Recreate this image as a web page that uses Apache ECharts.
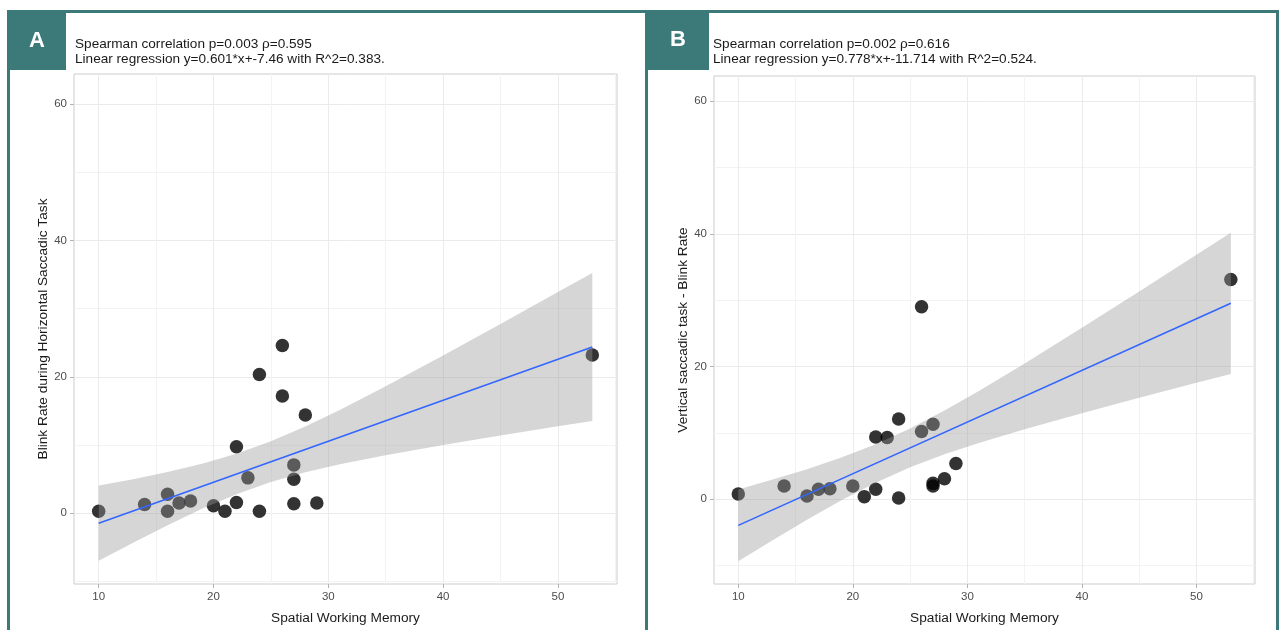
<!DOCTYPE html>
<html>
<head>
<meta charset="utf-8">
<script src="https://cdn.jsdelivr.net/npm/echarts@6/dist/echarts.min.js"></script>
<style>
html,body{margin:0;padding:0;background:#fff;}
#chart{width:1279px;height:630px;}
</style>
</head>
<body>
<div id="chart"></div>
<script>
// ---- Panel A data ----
const swmA = [10,14,16,16,17,18,20,21,22,22,23,24,24,26,26,27,27,27,28,29,53];
const blinkA = [0.3,1.3,2.8,0.3,1.5,1.8,1.1,0.3,1.6,9.75,5.2,0.3,20.35,24.6,17.2,7.1,5.0,1.4,14.4,1.5,23.2];
const fitXA = [10,53];
const fitYA = [-1.45,24.39];
const bandX = [10,13,16,19,22,25,28,31,35,40,45,50,53];
const bandLoA = [-6.97,-4.31,-1.73,0.67,2.80,4.59,6.01,7.18,8.53,10.02,11.42,12.75,13.54];
const bandHiA = [4.07,5.01,6.05,7.25,8.72,10.55,12.73,15.16,18.63,23.14,27.76,32.43,35.24];
// ---- Panel B data ----
const swmB = [10,14,16,17,18,20,21,22,22,23,24,24,26,26,27,27,27,28,29,53];
const blinkB = [0.8,2.0,0.5,1.5,1.6,2.0,0.4,1.5,9.4,9.3,12.1,0.2,10.2,29.0,11.3,2.4,2.0,3.1,5.4,33.1];
const fitXB = [10,53];
const fitYB = [-3.93,29.52];
const bandLoB = [-9.33,-6.17,-3.08,-0.15,2.50,4.82,6.78,8.49,10.57,12.98,15.30,17.55,18.89];
const bandHiB = [1.47,2.97,4.54,6.29,8.30,10.66,13.36,16.31,20.47,25.84,31.30,36.83,40.15];
// ---- ticks / texts ----
const xMajor = [10,20,30,40,50];
const xMinor = [15,25,35,45,55];
const yMajor = [0,20,40,60];
const yMinor = [-10,10,30,50];
const xTitle = 'Spatial Working Memory';
const yTitleA = 'Blink Rate during Horizontal Saccadic Task';
const yTitleB = 'Vertical saccadic task - Blink Rate';
const headA = ['Spearman correlation p=0.003 ρ=0.595','Linear regression y=0.601*x+-7.46 with R^2=0.383.'];
const headB = ['Spearman correlation p=0.002 ρ=0.616','Linear regression y=0.778*x+-11.714 with R^2=0.524.'];

const FONT = "'Liberation Sans', Arial, sans-serif";
const TEAL = '#3b7a79';

function zip(a,b){return a.map((v,i)=>[v,b[i]]);}
function bandData(lo,hi){return bandX.map((x,i)=>[x,lo[i],hi[i]]);}

function xAxes(grid, min, max){
  return [{
    type:'value', gridIndex:grid, min:min, max:max, position:'bottom',
    axisLine:{show:false,onZero:false},
    axisTick:{show:true,length:4,lineStyle:{color:'#b3b3b3'},customValues:xMajor},
    axisLabel:{customValues:xMajor,color:'#4d4d4d',fontSize:11.5,fontFamily:FONT,margin:7},
    splitLine:{show:true,lineStyle:{color:'#ebebeb',width:1}},
    name:xTitle,nameLocation:'middle',nameGap:27,
    nameTextStyle:{color:'#1a1a1a',fontSize:13.7,fontFamily:FONT}
  },{
    type:'value', gridIndex:grid, min:min, max:max, position:'bottom',
    axisLine:{show:false,onZero:false},
    axisTick:{show:false,customValues:xMinor},
    axisLabel:{show:false,customValues:xMinor},
    splitLine:{show:true,lineStyle:{color:'#f3f3f3',width:1}}
  }];
}
function yAxes(grid, min, max, title, gap){
  return [{
    type:'value', gridIndex:grid, min:min, max:max, position:'left',
    axisLine:{show:false,onZero:false},
    axisTick:{show:true,length:4,lineStyle:{color:'#b3b3b3'},customValues:yMajor},
    axisLabel:{customValues:yMajor,color:'#4d4d4d',fontSize:11.5,fontFamily:FONT,margin:7},
    splitLine:{show:true,lineStyle:{color:'#ebebeb',width:1}},
    name:title,nameLocation:'middle',nameGap:gap,
    nameTextStyle:{color:'#1a1a1a',fontSize:13.7,fontFamily:FONT}
  },{
    type:'value', gridIndex:grid, min:min, max:max, position:'left',
    axisLine:{show:false,onZero:false},
    axisTick:{show:false,customValues:yMinor},
    axisLabel:{show:false,customValues:yMinor},
    splitLine:{show:true,lineStyle:{color:'#f3f3f3',width:1}}
  }];
}
function bandSeries(xi, yi, data){
  return {
    type:'custom', xAxisIndex:xi, yAxisIndex:yi, z:3, silent:true,
    data:data, encode:{x:0,y:[1,2]},
    renderItem:function(params, api){
      if(params.dataIndex!==0) return null;
      const pts=[];
      for(let i=0;i<data.length;i++) pts.push(api.coord([data[i][0],data[i][2]]));
      for(let i=data.length-1;i>=0;i--) pts.push(api.coord([data[i][0],data[i][1]]));
      return {type:'polygon',shape:{points:pts},style:{fill:'rgba(153,153,153,0.4)'}};
    }
  };
}

const chart = echarts.init(document.getElementById('chart'), null, {renderer:'canvas'});
const option = {
  backgroundColor:'#ffffff',
  animation:false,
  grid:[
    {left:74, top:74, width:543, height:510, show:true, borderColor:'#cccccc', borderWidth:1, backgroundColor:'transparent'},
    {left:714, top:76, width:541, height:508, show:true, borderColor:'#cccccc', borderWidth:1, backgroundColor:'transparent'}
  ],
  xAxis:[].concat(xAxes(0,7.85,55.15), xAxes(1,7.88,55.11)),
  yAxis:[].concat(yAxes(0,-10.36,64.4,yTitleA,20), yAxes(1,-12.76,63.77,yTitleB,22)),
  series:[
    {type:'scatter', xAxisIndex:0, yAxisIndex:0, z:2, data:zip(swmA,blinkA), symbolSize:13.5, itemStyle:{color:'#000'}},
    bandSeries(0,0,bandData(bandLoA,bandHiA)),
    {type:'line', xAxisIndex:0, yAxisIndex:0, z:4, data:zip(fitXA,fitYA), showSymbol:false, lineStyle:{color:'#3366ff',width:1.6}},
    {type:'scatter', xAxisIndex:2, yAxisIndex:2, z:2, data:zip(swmB,blinkB), symbolSize:13.5, itemStyle:{color:'#000'}},
    bandSeries(2,2,bandData(bandLoB,bandHiB)),
    {type:'line', xAxisIndex:2, yAxisIndex:2, z:4, data:zip(fitXB,fitYB), showSymbol:false, lineStyle:{color:'#3366ff',width:1.6}}
  ],
  graphic:[
    {type:'rect', shape:{x:7,y:10,width:1272,height:3}, style:{fill:TEAL}},
    {type:'rect', shape:{x:7,y:10,width:3,height:620}, style:{fill:TEAL}},
    {type:'rect', shape:{x:645,y:10,width:3,height:620}, style:{fill:TEAL}},
    {type:'rect', shape:{x:1276,y:10,width:3,height:620}, style:{fill:TEAL}},
    {type:'rect', shape:{x:7,y:10,width:59,height:60}, style:{fill:TEAL}},
    {type:'rect', shape:{x:645,y:10,width:64,height:60}, style:{fill:TEAL}},
    {type:'text', x:37, y:41, style:{text:'A', fill:'#fff', font:"bold 22px "+FONT, textAlign:'center', textVerticalAlign:'middle'}},
    {type:'text', x:678, y:40, style:{text:'B', fill:'#fff', font:"bold 22px "+FONT, textAlign:'center', textVerticalAlign:'middle'}},
    {type:'text', x:75, y:44, style:{text:headA[0], fill:'#1a1a1a', font:"13.6px "+FONT, textVerticalAlign:'middle'}},
    {type:'text', x:75, y:59, style:{text:headA[1], fill:'#1a1a1a', font:"13.6px "+FONT, textVerticalAlign:'middle'}},
    {type:'text', x:713, y:44, style:{text:headB[0], fill:'#1a1a1a', font:"13.6px "+FONT, textVerticalAlign:'middle'}},
    {type:'text', x:713, y:59, style:{text:headB[1], fill:'#1a1a1a', font:"13.6px "+FONT, textVerticalAlign:'middle'}}
  ]
};
chart.setOption(option);
</script>
</body>
</html>
